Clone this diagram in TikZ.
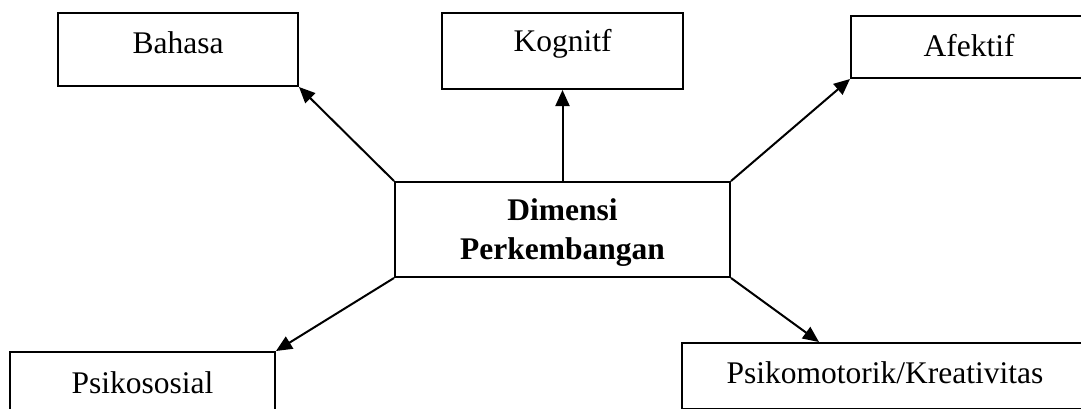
\documentclass[tikz,border=0pt]{standalone}
\usepackage{fontspec}
\setmainfont{Liberation Serif}
\usetikzlibrary{arrows.meta}

\begin{document}
\begin{tikzpicture}[x=0.5pt, y=-0.5pt, line width=1pt,
  box/.style={draw, inner sep=0pt, align=center, text height=11pt, text depth=4pt,
              font=\fontsize{15.75}{18.5}\selectfont},
  arr/.style={-{Triangle[length=8pt, width=7pt]}}]
  \clip (0,0) rectangle (1081,408);
  \node[box, minimum width=120pt, minimum height=36.5pt, text depth=7pt] (bahasa) at (178,49.5) {Bahasa};
  \node[box, minimum width=120.5pt, minimum height=38pt, text depth=11pt] (kognitif) at (562.5,51) {Kognitf};
  \node[box, minimum width=118pt, minimum height=31pt, text depth=2pt] (afektif) at (969,47) {Afektif};
  \node[box, minimum width=167.5pt, minimum height=47.5pt, text height=, text depth=0pt,
        font=\fontsize{15.75}{19.5}\selectfont\bfseries] (dimensi) at (562.5,229.5) {Dimensi\\Perkembangan};
  \node[box, minimum width=132.5pt, minimum height=34.5pt] (psikososial) at (142.5,386.5) {Psikososial};
  \node[box, minimum width=203pt, minimum height=33pt] (psikomotorik) at (885,376) {Psikomotorik/Kreativitas};
  \draw[arr] (dimensi.north west) -- (bahasa.south east);
  \draw[arr] (dimensi.north) -- (kognitif.south);
  \draw[arr] (dimensi.north east) -- (afektif.south west);
  \draw[arr] (dimensi.south west) -- (psikososial.north east);
  \draw[arr] (dimensi.south east) -- ([xshift=69pt]psikomotorik.north west);
\end{tikzpicture}
\end{document}
